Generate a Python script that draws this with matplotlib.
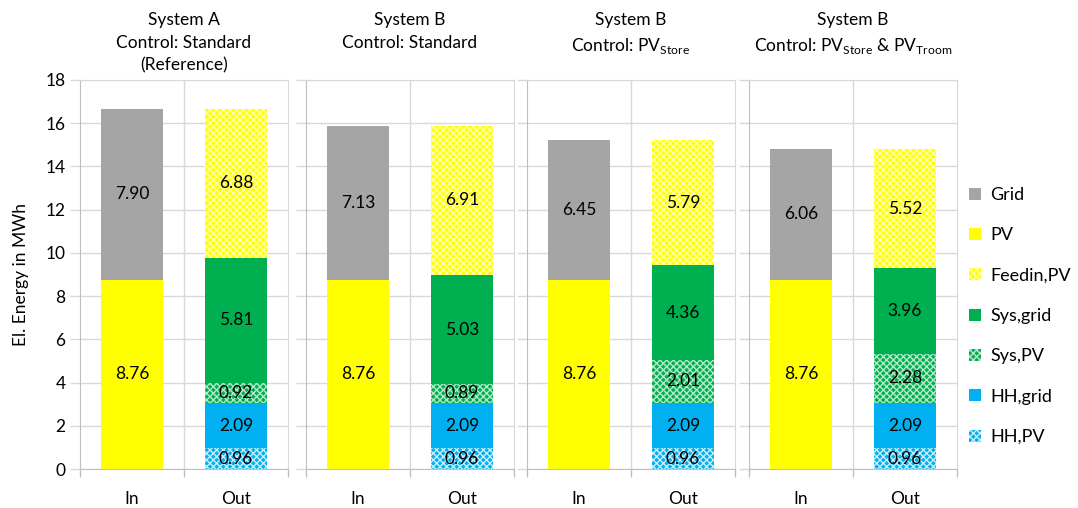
import matplotlib
matplotlib.use("Agg")
import matplotlib.pyplot as plt
from matplotlib.patches import Patch

plt.rcParams['font.family'] = ['Lato', 'DejaVu Sans']
plt.rcParams['mathtext.fontset'] = 'custom'
plt.rcParams['mathtext.rm'] = 'Lato'
plt.rcParams['hatch.linewidth'] = 1.0

titles = ["System A\nControl: Standard\n(Reference)",
          "System B\nControl: Standard",
          "System B\nControl: PV$_{\\mathrm{Store}}$",
          "System B\nControl: PV$_{\\mathrm{Store}}$ & PV$_{\\mathrm{Troom}}$"]
categories = ["In", "Out"]

# inputs
in_pv = [8.76, 8.76, 8.76, 8.76]
in_grid = [7.90, 7.13, 6.45, 6.06]
# outputs
hh_pv = [0.96, 0.96, 0.96, 0.96]
hh_grid = [2.09, 2.09, 2.09, 2.09]
sys_pv = [0.92, 0.89, 2.01, 2.28]
sys_grid = [5.81, 5.03, 4.36, 3.96]
feedin_pv = [6.88, 6.91, 5.79, 5.52]

GRAY = '#A5A5A5'
YELLOW = '#FFFF00'
GREEN = '#00B050'
BLUE = '#00B0F0'
GRID = '#D9D9D9'
AXIS = '#BFBFBF'

styles = {
    'Grid': dict(color=GRAY),
    'PV': dict(color=YELLOW),
    'Feedin,PV': dict(facecolor=YELLOW, edgecolor='#FFFFA8', hatch='xxxxx'),
    'Sys,grid': dict(color=GREEN),
    'Sys,PV': dict(facecolor=GREEN, edgecolor='#B5E8C8', hatch='xxxxx'),
    'HH,grid': dict(color=BLUE),
    'HH,PV': dict(facecolor=BLUE, edgecolor='#C8EEFC', hatch='xxxxx'),
}

W, H = 1078, 508
fig = plt.figure(figsize=(W / 100, H / 100), dpi=100)
lefts = [80, 306, 527, 749]
pw = 208
bottom, top = 469, 80

width = 0.6
for i, lx in enumerate(lefts):
    ax = fig.add_axes([lx / W, 1 - bottom / H, pw / W, (bottom - top) / H])
    ax.set_xlim(-0.5, 1.5)
    ax.set_ylim(0, 18)
    ax.set_yticks(range(0, 19, 2))
    ax.grid(axis='y', color=GRID, linewidth=1)
    ax.axvline(0.5, color=GRID, linewidth=1, zorder=0)
    ax.set_axisbelow(True)

    # input column
    stack_in = [('PV', in_pv[i]), ('Grid', in_grid[i])]
    # output column
    stack_out = [('HH,PV', hh_pv[i]), ('HH,grid', hh_grid[i]),
                 ('Sys,PV', sys_pv[i]), ('Sys,grid', sys_grid[i]),
                 ('Feedin,PV', feedin_pv[i])]
    for x, stack in ((0, stack_in), (1, stack_out)):
        base = 0
        for name, v in stack:
            ax.bar(x, v, width, bottom=base, linewidth=0, **styles[name])
            ax.text(x, base + v / 2, f"{v:.2f}", ha='center', va='center',
                    fontsize=12.5, color='black')
            base += v

    ax.set_xticks([0, 1])
    ax.set_xticklabels(categories, fontsize=12.5)
    ax.tick_params(axis='x', length=0, pad=16)
    ax.set_xticks([-0.5, 0.5, 1.5], minor=True)
    ax.tick_params(axis='x', which='minor', length=6, color=AXIS, width=1)
    ax.tick_params(axis='y', length=7, color=GRID, width=1, labelsize=12.5)
    if i > 0:
        ax.tick_params(axis='y', labelleft=False)
    else:
        ax.set_ylabel("El. Energy in MWh", fontsize=12.5, labelpad=12)
    for s in ('top', 'right'):
        ax.spines[s].set_color(GRID)
    for s in ('left', 'bottom'):
        ax.spines[s].set_color(AXIS)

    fig.text((lx + pw / 2) / W, 1 - 12 / H, titles[i], ha='center', va='top',
             fontsize=12.5, linespacing=1.5)

order = ['Grid', 'PV', 'Feedin,PV', 'Sys,grid', 'Sys,PV', 'HH,grid', 'HH,PV']
handles = []
for name in order:
    kw = styles[name]
    if 'hatch' in kw:
        handles.append(Patch(facecolor=kw['facecolor'], edgecolor=kw['edgecolor'],
                             hatch=kw['hatch'], linewidth=0, label=name))
    else:
        handles.append(Patch(color=kw['color'], linewidth=0, label=name))
fig.legend(handles=handles, loc='center left', bbox_to_anchor=(962 / W, 1 - 316 / H),
           frameon=False, fontsize=13, handlelength=0.65, handleheight=0.65,
           handletextpad=0.5, labelspacing=1.35, borderaxespad=0)

fig.savefig("out.png", dpi=100)
